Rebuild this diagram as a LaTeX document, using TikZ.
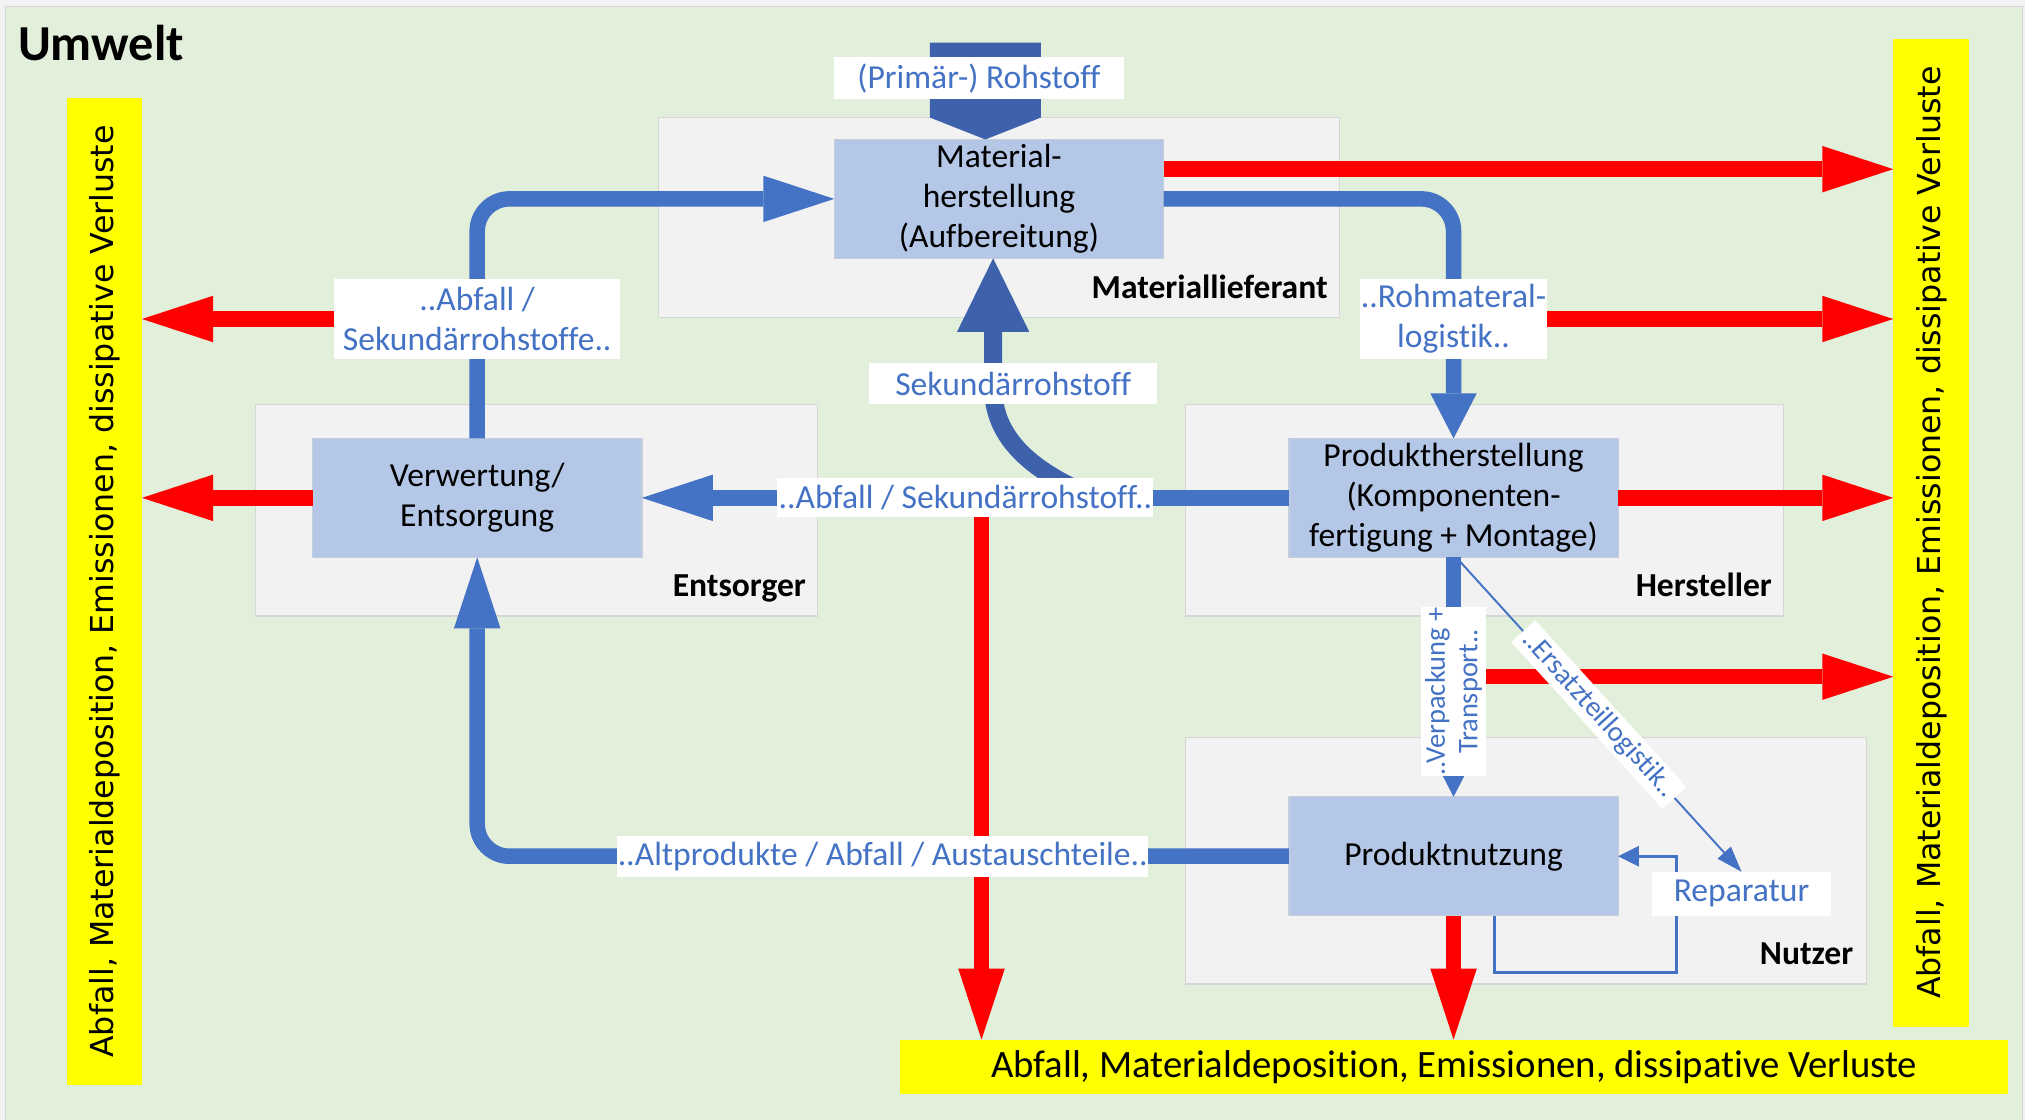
\documentclass[tikz,border=0pt]{standalone}
\usepackage{fontspec}
\setmainfont{Carlito}[Ligatures=NoCommon]
\newfontfamily\dvsfont{DejaVu Sans}
\usetikzlibrary{arrows.meta,calc}
\definecolor{pagegray}{HTML}{F2F2F2}
\definecolor{envgreen}{HTML}{E2EFDA}
\definecolor{grpgray}{HTML}{F2F2F2}
\definecolor{grpline}{HTML}{D6D6D6}
\definecolor{procfill}{HTML}{B4C7E7}
\definecolor{procline}{HTML}{C5CEDD}
\definecolor{flowblue}{HTML}{4472C4}
\definecolor{darkblue}{HTML}{3D62AB}
\definecolor{lossred}{HTML}{FF0000}
\definecolor{lossyellow}{HTML}{FFFF00}
\newcommand\fsmain{\fontsize{26}{31}\selectfont}
\newcommand\fsgrp{\bfseries\fontsize{26}{30}\selectfont}
\newcommand\fssmall{\fontsize{22}{25}\selectfont}
\newcommand\fsvert{\dvsfont\fontsize{24.5}{28}\selectfont}
\begin{document}
\begin{tikzpicture}[x=1pt,y=-1pt,
  every node/.style={inner sep=0pt, outer sep=0pt},
  grp/.style={draw=grpline, fill=grpgray, line width=1pt},
  proc/.style={draw=procline, fill=procfill, line width=1pt, align=center, font=\fsmain, minimum width=255pt, minimum height=92pt},
  lbl/.style={fill=white, text=flowblue, align=center, font=\fsmain},
  bar/.style={fill=lossyellow},
  grpname/.style={font=\fsgrp, anchor=base east},
  redflow/.style={draw=lossred, line width=12pt, -{Triangle[length=55pt,width=36pt,line width=0pt]}},
  blueflow/.style={draw=flowblue, line width=12pt},
  longhead/.style={-{Triangle[length=55pt,width=36pt,line width=0pt]}},
  shorthead/.style={-{Triangle[length=35pt,width=36pt,line width=0pt]}},
  thinflow/.style={draw=flowblue}
]
\useasboundingbox (0,0) rectangle (1568,867);
% background
\fill[pagegray] (0,0) rectangle (1568,867);
\filldraw[fill=envgreen, draw=grpline, line width=1pt] (4,5) rectangle (1566,869);
\node[anchor=base west, font=\bfseries\fontsize{39}{42}\selectfont] (umwelt) at (14,47) {Umwelt};

% group boxes
\node[grp, minimum width=527pt, minimum height=155pt] (gML) at (773.5,168.5) {};
\node[grp, minimum width=435pt, minimum height=164pt] (gE) at (415.5,395) {};
\node[grp, minimum width=463pt, minimum height=164pt] (gH) at (1149.5,395) {};
\node[grp, minimum width=527pt, minimum height=191pt] (gN) at (1181.5,666.5) {};
\node[grpname] at ($(gML.south east)+(-9,-15)$) {Materiallieferant};
\node[grpname] at ($(gE.south east)+(-9,-15)$) {Entsorger};
\node[grpname] at ($(gH.south east)+(-9,-15)$) {Hersteller};
\node[grpname] at ($(gN.south east)+(-10,-15)$) {Nutzer};

% loss bars
\node[bar, minimum width=58pt, minimum height=764pt] (lbar) at (81,458) {};
\node[rotate=90, font=\fsvert] at (lbar.center) {Abfall, Materialdeposition, Emissionen, dissipative Verluste};
\node[bar, minimum width=59pt, minimum height=765pt] (rbar) at (1495.5,412.5) {};
\node[rotate=90, font=\fsvert] at (rbar.center) {Abfall, Materialdeposition, Emissionen, dissipative Verluste};
\node[bar, minimum width=858pt, minimum height=42pt, font=\fontsize{30}{32}\selectfont] (bbar) at (1126,826) {Abfall, Materialdeposition, Emissionen, dissipative Verluste};

% process boxes
\node[proc] (mat) at (773.5,154) {Material-\\herstellung\\(Aufbereitung)};
\node[proc] (verw) at (369.5,385.5) {Verwertung/\\Entsorgung};
\node[proc] (prod) at (1125.5,385.5) {Produktherstellung\\(Komponenten-\\fertigung + Montage)};
\node[proc] (nutz) at (1125.5,663) {Produktnutzung};

% primary raw material chevron
\fill[darkblue] ($(mat.north)+(-53.5,-75)$) -- ++(86,0) -- ++(0,58) -- ++(-43,17) -- ++(-43,-17) -- cycle;
\node[lbl, minimum width=224pt, minimum height=33pt] (lPrim) at (758,60.5) {(Primär-) Rohstoff};

% secondary raw material back to material production
\coordinate (sekS) at (850,386);
\draw[darkblue, line width=14pt, -{Triangle[length=57pt,width=56pt,line width=0pt]}]
  (sekS) .. controls (800,366) and (769,340) .. (769,300) -- ($(mat.south)+(-4.5,0)$);
\node[lbl, minimum width=223pt, minimum height=32pt] (lSek) at (784.5,297) {Sekundärrohstoff};

% blue flows
\draw[blueflow, longhead, rounded corners=25pt] (verw.north) |- (mat.west);
\node[lbl, minimum width=221pt, minimum height=62pt] (lAbfA) at (369.5,247) {..Abfall /\\Sekundärrohstoffe..};
\draw[blueflow, shorthead, rounded corners=25pt] (mat.east) -| (prod.north);
\node[lbl, minimum width=145pt, minimum height=62pt] (lRoh) at (1125.5,247) {..Rohmateral-\\logistik..};
\draw[blueflow, longhead] (prod.west) -- node[lbl, minimum width=291pt, minimum height=30pt, pos=0.5] (lAbfB) {..Abfall / Sekundärrohstoff..} (verw.east);

% red vertical loss through the middle
\draw[redflow] (lAbfB.south -| 760,0) -- (bbar.north -| 760,0);

\draw[blueflow, longhead, rounded corners=25pt] (nutz.west) -| (verw.south);
\node[lbl, minimum width=411pt, minimum height=32pt] (lAlt) at (683.5,663) {..Altprodukte / Abfall / Austauschteile..};

\draw[blueflow, shorthead] (prod.south) -- (nutz.north);
\node[lbl, rotate=90, font=\fssmall, minimum width=131pt, minimum height=51pt] (lVer) at (1125.5,535.5) {..Verpackung +\\Transport..};

% red loss flows
\draw[redflow] (mat.east |- 0,131) -- (rbar.west |- 0,131);
\draw[redflow] (lRoh.east |- 0,247) -- (rbar.west |- 0,247);
\draw[redflow] (prod.east) -- (rbar.west |- prod.east);
\draw[redflow] (lVer.south |- 0,524) -- (rbar.west |- 0,524);
\draw[redflow] (lAbfA.west) -- (lbar.east |- lAbfA.west);
\draw[redflow] (verw.west) -- (lbar.east |- verw.west);
\draw[redflow] (nutz.south) -- (bbar.north -| nutz.south);

% spare parts logistics and repair
\draw[thinflow, line width=1.5pt, -{Triangle[length=20pt,width=14pt,line width=0pt]}]
  ($(prod.south)+(2,0)$) -- node[lbl, sloped, pos=0.5, font=\fssmall, inner xsep=4pt, inner ysep=3pt] (lErs) {..Ersatzteillogistik..} (1348.5,675);
\coordinate (repC) at (1298,753);
\draw[thinflow, line width=2.5pt, -{Triangle[length=16pt,width=16pt,line width=0pt]}]
  ($(nutz.south)+(31.5,0)$) |- (repC) |- (nutz.east);
\node[lbl, minimum width=139pt, minimum height=34pt] (lRep) at (1348.5,692) {Reparatur};
\end{tikzpicture}
\end{document}
